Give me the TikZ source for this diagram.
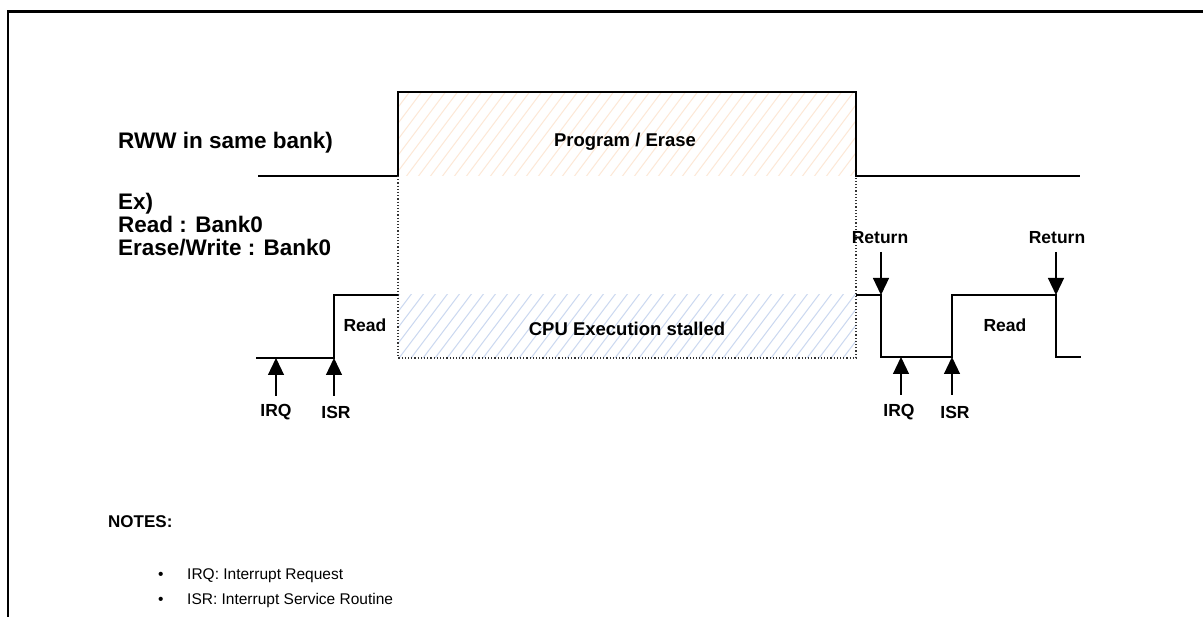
\documentclass[tikz,border=0pt]{standalone}
\usepackage{fontspec}
\setmainfont{Liberation Sans}
\usetikzlibrary{arrows.meta}
\definecolor{hatchorange}{RGB}{253,232,215}
\definecolor{hatchblue}{RGB}{203,216,240}
\tikzset{
  signal/.style={line width=1.3pt, black},
  guide/.style={line width=1.2pt, dotted, black!80},
  hatchline/.style={line width=1pt},
  marker/.style={line width=1.2pt, -{Triangle[length=17pt,width=16pt]}},
  lbl/.style={font=\fontsize{17.5}{20}\selectfont\bfseries, inner sep=0pt},
  biglbl/.style={font=\fontsize{18.5}{21}\selectfont\bfseries, inner sep=0pt},
  sidelbl/.style={font=\fontsize{22.5}{24}\selectfont\bfseries, inner sep=0pt, anchor=base west},
  notelbl/.style={font=\fontsize{15.5}{18}\selectfont, inner sep=0pt, anchor=base west}
}
\begin{document}
\begin{tikzpicture}[x=1pt, y=-1pt]
\useasboundingbox (0,0) rectangle (1203,617);
\fill[white] (0,0) rectangle (1203,617);

% frame
\draw[line width=2.5pt] (8,617) -- (8,11.5) -- (1203,11.5);

% hatched areas
\begin{scope}
  \clip (398,92) rectangle (856,176);
  \foreach \i in {0,12,...,600}
    \draw[hatchline, hatchorange] (300+\i,190) -- (300+\i+90,70);
\end{scope}
\begin{scope}
  \clip (398,295) rectangle (856,358);
  \foreach \i in {0,12,...,560}
    \draw[hatchline, hatchblue] (330+\i,370) -- (330+\i+65,284);
\end{scope}

% program / erase waveform
\draw[signal] (258,176) -- (398,176) -- (398,92) -- (856,92) -- (856,176) -- (1080,176);

% stall window guides
\draw[guide] (398,176) -- (398,358) -- (856,358) -- (856,176);

% CPU waveform
\draw[signal] (256,358) -- (334,358) -- (334,295) -- (398,295);
\draw[signal] (856,295) -- (881,295) -- (881,357) -- (952,357) -- (952,295)
              -- (1056,295) -- (1056,357) -- (1081,357);

% event markers
\coordinate (irqA) at (276,358);  \coordinate (irqAs) at (276,396);
\coordinate (isrA) at (334,358);  \coordinate (isrAs) at (334,396);
\coordinate (irqB) at (901,357);  \coordinate (irqBs) at (901,395);
\coordinate (isrB) at (952,357);  \coordinate (isrBs) at (952,395);
\coordinate (retA) at (881,295);  \coordinate (retAs) at (881,252);
\coordinate (retB) at (1056,295); \coordinate (retBs) at (1056,252);
\draw[marker] (irqAs) -- (irqA);
\draw[marker] (isrAs) -- (isrA);
\draw[marker] (irqBs) -- (irqB);
\draw[marker] (isrBs) -- (isrB);
\draw[marker] (retAs) -- (retA);
\draw[marker] (retBs) -- (retB);

% labels
\node[biglbl] (pe) at (625,142) {Program / Erase};
\node[biglbl] (cpu) at (627,329) {CPU Execution stalled};
\node[lbl] (rdA) at (365,325) {Read};
\node[lbl] (rdB) at (1005,325) {Read};
\node[lbl] (irqAl) at (276,412) {IRQ};
\node[lbl] (isrAl) at (336,412) {ISR};
\node[lbl] (irqBl) at (899,412) {IRQ};
\node[lbl] (isrBl) at (955,412) {ISR};
\node[lbl] (retAl) at (880,238) {Return};
\node[lbl] (retBl) at (1057,238) {Return};

\node[sidelbl] (rww) at (118,149) {RWW in same bank)};
\node[sidelbl] (ex) at (118,210) {Ex)};
\node[sidelbl] (rd0) at (118,233) {Read : Bank0};
\node[sidelbl] (ew0) at (118,256) {Erase/Write : Bank0};

% notes
\node[notelbl, font=\fontsize{17}{19}\selectfont\bfseries] (notes) at (108,528) {NOTES:};
\node[notelbl] (b1) at (158,579) {•};
\node[notelbl] (n1) at (187,579) {IRQ: Interrupt Request};
\node[notelbl] (b2) at (158,604) {•};
\node[notelbl] (n2) at (187,604) {ISR: Interrupt Service Routine};
\end{tikzpicture}
\end{document}
